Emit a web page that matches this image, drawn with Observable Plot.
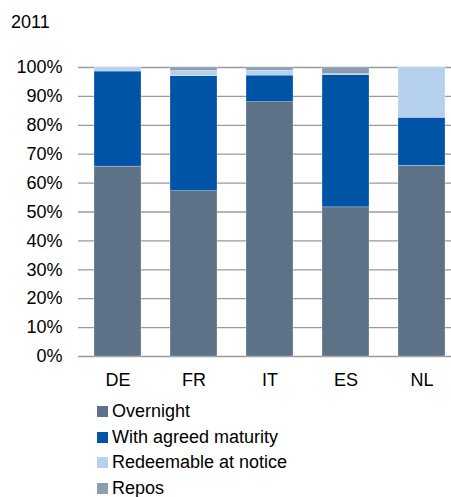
<!DOCTYPE html>
<html>
<head>
<meta charset="utf-8">
<script src="https://cdn.jsdelivr.net/npm/d3@7"></script>
<script src="https://cdn.jsdelivr.net/npm/@observablehq/plot@0.6"></script>
<style>
  body { margin: 0; background: #fff; font-family: "Liberation Sans", Arial, sans-serif; width: 451px; height: 497px; overflow: hidden; }
  #title { height: 40px; line-height: 44px; padding-left: 11px; font-size: 18px; color: #000; }
  #legend { padding-top: 3px; padding-left: 97px; }
  .item { height: 25.5px; line-height: 25.5px; font-size: 18px; color: #000; display: flex; align-items: center; }
  .sw { width: 11px; height: 11px; margin-right: 4px; flex: none; }
</style>
</head>
<body>
<div id="title">2011</div>
<div id="chart"></div>
<div id="legend"></div>
<script>
const countries = ["DE", "FR", "IT", "ES", "NL"];
const seriesNames = ["Overnight", "With agreed maturity", "Redeemable at notice", "Repos"];
const seriesColors = ["#5D7286", "#0054A6", "#B5D1EE", "#8A9DB1"];
const overnight = [65.7, 57.2, 88.0, 51.6, 66.0];
const agreedMaturity = [32.9, 39.8, 9.2, 45.8, 16.6];
const redeemable = [1.3, 1.8, 1.7, 0.3, 17.4];
const repos = [0.1, 1.2, 1.1, 2.3, 0.0];
const yTicks = [0, 10, 20, 30, 40, 50, 60, 70, 80, 90, 100];

const seriesValues = [overnight, agreedMaturity, redeemable, repos];
const rows = [];
seriesNames.forEach((s, i) => {
  countries.forEach((c, j) => rows.push({country: c, series: s, value: seriesValues[i][j]}));
});

const chart = Plot.plot({
  width: 451,
  height: 356,
  marginTop: 27,
  marginBottom: 40,
  marginLeft: 78,
  marginRight: 0,
  style: { fontFamily: "Liberation Sans, Arial, sans-serif", fontSize: "18px", color: "#000", background: "#fff" },
  x: { domain: countries, paddingInner: 0.385, paddingOuter: 0.134, align: 0.735, label: null, tickSize: 0, tickPadding: 17 },
  y: { domain: [0, 100], ticks: yTicks, tickFormat: d => d + "%", label: null, tickSize: 0, tickPadding: 16 },
  color: { domain: seriesNames, range: seriesColors },
  marks: [
    Plot.ruleY(yTicks, { stroke: "#9a9a9a", strokeWidth: 1.3 }),
    Plot.barY(rows, Plot.stackY({
      x: "country", y: "value", fill: "series", z: "series", order: seriesNames,
      stroke: "#ffffff", strokeWidth: 0.5, strokeOpacity: 0.5
    }))
  ]
});
document.getElementById("chart").appendChild(chart);

const legend = document.getElementById("legend");
seriesNames.forEach((s, i) => {
  const it = document.createElement("div");
  it.className = "item";
  const sw = document.createElement("span");
  sw.className = "sw";
  sw.style.background = seriesColors[i];
  const tx = document.createElement("span");
  tx.textContent = s;
  it.appendChild(sw);
  it.appendChild(tx);
  legend.appendChild(it);
});
</script>
</body>
</html>
